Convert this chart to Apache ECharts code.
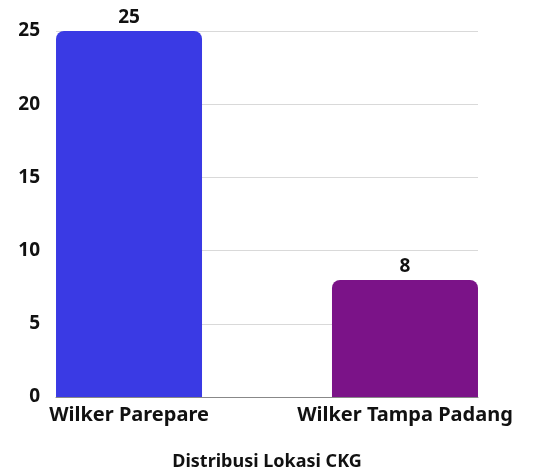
<!DOCTYPE html>
<html><head><meta charset="utf-8">
<script src="https://cdn.jsdelivr.net/npm/echarts@6/dist/echarts.min.js"></script>
<style>html,body{margin:0;padding:0;background:#fff}#c{width:535px;height:471px}</style>
</head><body><div id="c"></div>
<script>
const categories = ['Wilker Parepare', 'Wilker Tampa Padang'];
const values = [25, 8];
const colors = ['#3a3ae4', '#7b1388'];
const yTicks = [0, 5, 10, 15, 20, 25];
const xTitle = 'Distribusi Lokasi CKG';

const FONT = 'Noto Sans';
const chart = echarts.init(document.getElementById('c'));
const series = categories.map((c, i) => ({
  type: 'bar',
  data: values.map((v, j) => j === i ? v : '-'),
  barWidth: 146,
  barGap: '-55.5%',
  itemStyle: { color: colors[i], borderRadius: [8, 8, 0, 0] },
  label: { show: true, position: 'top', distance: 4, color: '#111', fontFamily: FONT, fontWeight: 'bold', fontSize: 19 }
}));
chart.setOption({
  animation: false,
  grid: { left: 56, right: 57, top: 31, bottom: 74, containLabel: false, outerBoundsMode: 'none' },
  xAxis: {
    type: 'category', data: categories, boundaryGap: true,
    name: xTitle, nameLocation: 'middle', nameGap: 56,
    nameTextStyle: { color: '#111', fontFamily: FONT, fontWeight: 'bold', fontSize: 18 },
    axisLine: { lineStyle: { color: '#888', width: 1 } },
    axisTick: { show: false },
    axisLabel: {
      margin: 8, interval: 0,
      formatter: (v, i) => i === 0 ? '{a|' + v + '}' : '{b|' + v + '}',
      rich: {
        a: { color: '#111', fontFamily: FONT, fontWeight: 'bold', fontSize: 20, padding: [0, 65, 0, 0] },
        b: { color: '#111', fontFamily: FONT, fontWeight: 'bold', fontSize: 20, padding: [0, 0, 0, 65] }
      }
    }
  },
  yAxis: {
    type: 'value', min: yTicks[0], max: yTicks[yTicks.length - 1], interval: 5,
    axisLine: { show: false }, axisTick: { show: false },
    splitLine: { lineStyle: { color: '#d9d9d9' } },
    axisLabel: { margin: 16, color: '#111', fontFamily: FONT, fontWeight: 'bold', fontSize: 19 }
  },
  series: series
});
</script></body></html>
